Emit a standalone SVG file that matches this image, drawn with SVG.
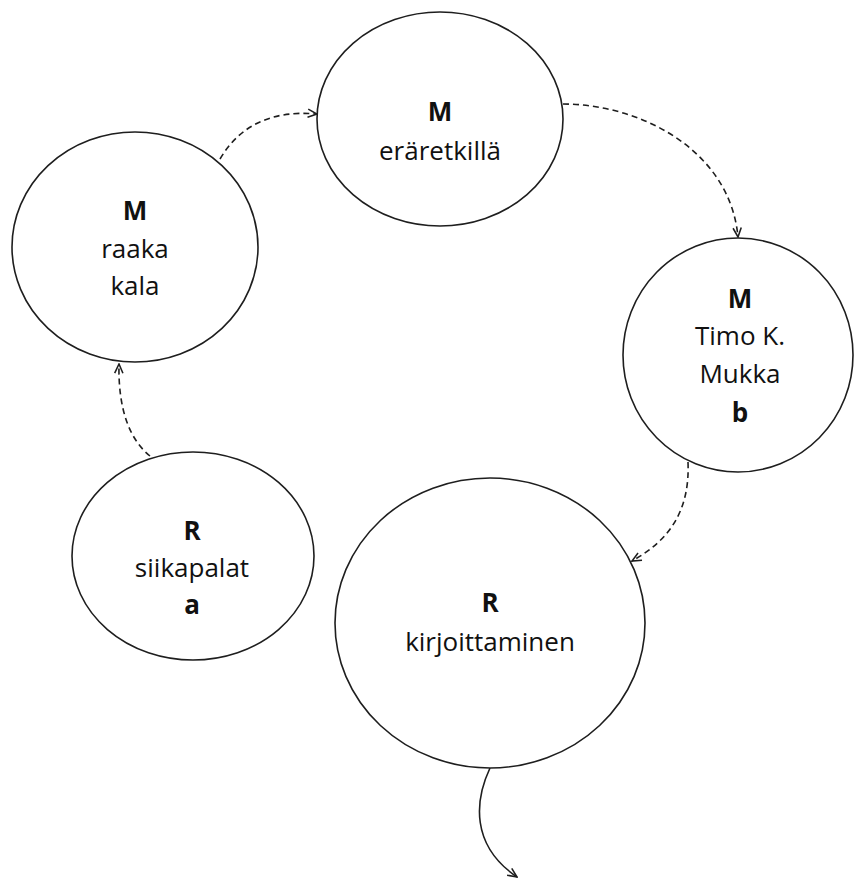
<svg xmlns="http://www.w3.org/2000/svg" width="856" height="880" viewBox="0 0 856 880">
<defs>
<style>
.node ellipse{fill:#fff;stroke:#1e1e1e;stroke-width:1.6}
.t{font-family:"Open Sans","Liberation Sans",sans-serif;font-size:26px;fill:#111;text-anchor:middle}
.b{font-weight:bold}
.dash{fill:none;stroke:#1e1e1e;stroke-width:1.6;stroke-dasharray:6 4}
.solid{fill:none;stroke:#1e1e1e;stroke-width:1.6}
</style>
<marker id="arr" viewBox="0 0 12 12" refX="11" refY="6" markerWidth="11" markerHeight="11" markerUnits="userSpaceOnUse" orient="auto">
<path d="M1,1.5 L11,6 L1,10.5" fill="none" stroke="#1e1e1e" stroke-width="1.7"/>
</marker>
</defs>
<rect width="856" height="880" fill="#fff"/>
<g id="connectors">
<path class="dash" d="M150,456 C 130,440 118,410 119,364" marker-end="url(#arr)"/>
<path class="dash" d="M220,159 Q 250,108 317,114" marker-end="url(#arr)"/>
<path class="dash" d="M563,104 C 640,104 730,150 738,237" marker-end="url(#arr)"/>
<path class="dash" d="M688,462 C 690,510 670,540 632,561" marker-end="url(#arr)"/>
<path class="solid" d="M490,768 C 475,800 470,845 517,877" marker-end="url(#arr)"/>
</g>
<g id="node-raaka-kala" class="node">
<ellipse cx="135" cy="247" rx="123" ry="115"/>
<text class="t b" x="135" y="220">M</text>
<text class="t" x="135" y="258">raaka</text>
<text class="t" x="135" y="295">kala</text>
</g>
<g id="node-eraretkilla" class="node">
<ellipse cx="440" cy="119" rx="123" ry="107"/>
<text class="t b" x="440" y="121">M</text>
<text class="t" x="440" y="160">eräretkillä</text>
</g>
<g id="node-timo" class="node">
<ellipse cx="738" cy="355" rx="115" ry="117"/>
<text class="t b" x="740" y="308">M</text>
<text class="t" x="740" y="345">Timo K.</text>
<text class="t" x="740" y="383">Mukka</text>
<text class="t b" x="740" y="422">b</text>
</g>
<g id="node-siikapalat" class="node">
<ellipse cx="193" cy="556" rx="121" ry="104"/>
<text class="t b" x="192" y="540">R</text>
<text class="t" x="192" y="577">siikapalat</text>
<text class="t b" x="192" y="614">a</text>
</g>
<g id="node-kirjoittaminen" class="node">
<ellipse cx="490" cy="623" rx="155" ry="145"/>
<text class="t b" x="490" y="612">R</text>
<text class="t" x="490" y="651">kirjoittaminen</text>
</g>
</svg>
